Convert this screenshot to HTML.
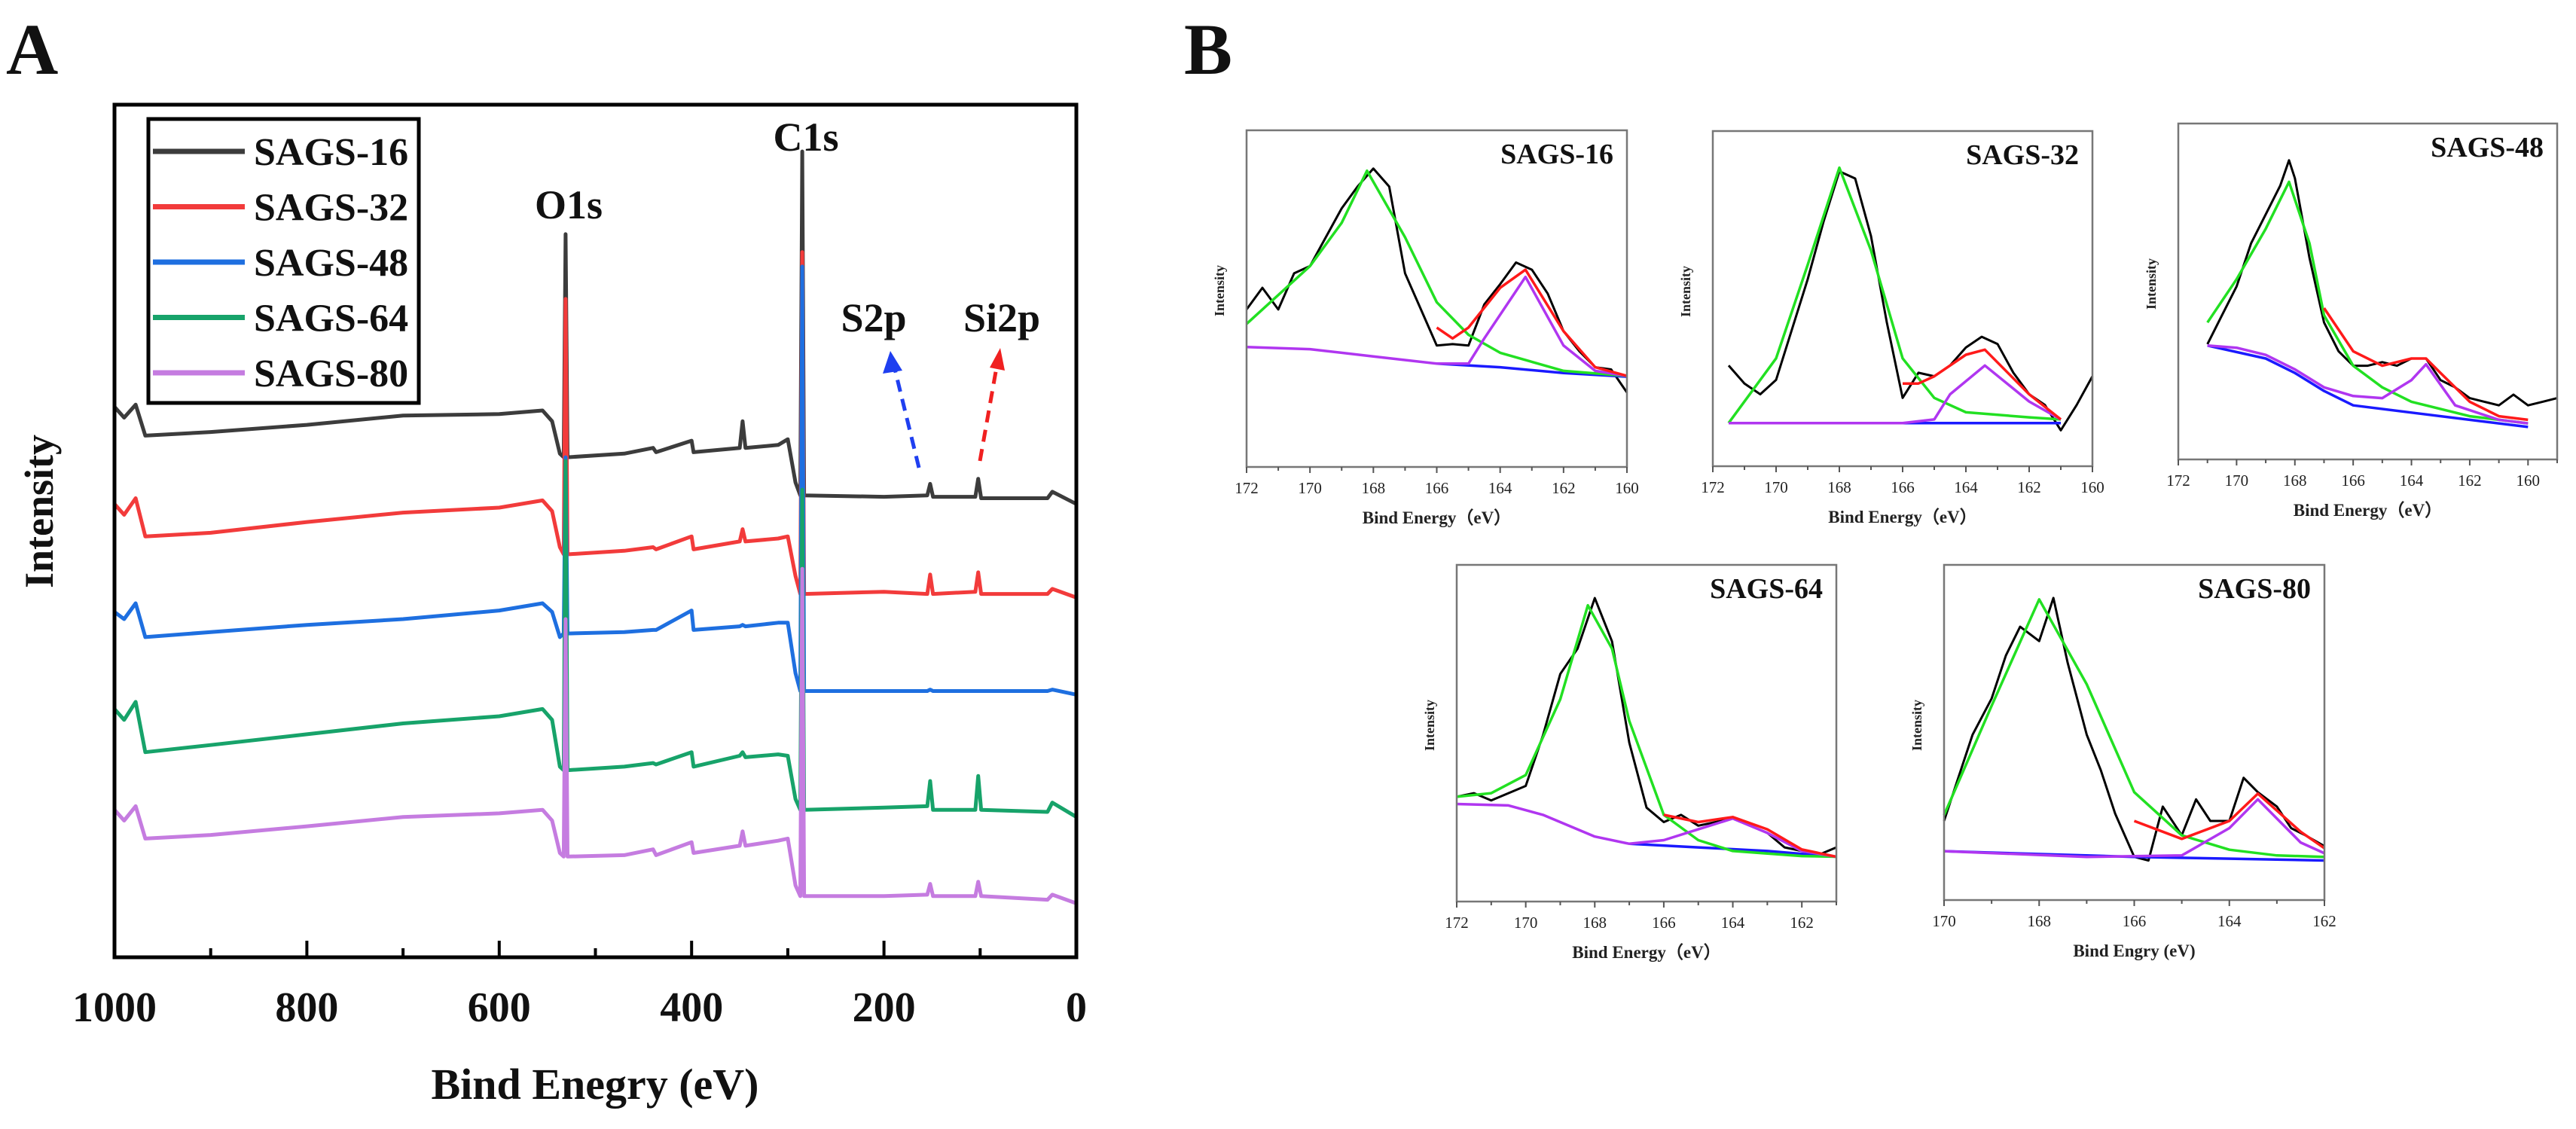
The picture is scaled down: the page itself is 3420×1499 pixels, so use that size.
<!DOCTYPE html>
<html><head><meta charset="utf-8"><style>
html,body{margin:0;padding:0;background:#fff;}
svg{display:block;font-family:"Liberation Serif",serif;}
</style></head><body>
<svg id="fig" width="3420" height="1499" viewBox="0 0 3420 1499" xmlns="http://www.w3.org/2000/svg"></svg>
<script>
// ---------- Panel A data ----------
const surveyE = [1000,990,978,968,900,800,700,600,555,545,537,533,531,529,470,440,437,400,398,350,347,344,310,300,292,287,285,283,200,155,152,149,105,102,99,30,25,0];
const sags16I = [765,750,768,725,730,740,753,755,760,745,700,695,1005,695,700,708,702,718,702,708,745,708,712,720,660,642,1120,642,640,642,658,640,640,665,638,638,647,630];
const sags32I = [630,615,638,585,590,605,618,625,635,620,570,560,915,560,565,570,567,585,567,578,595,578,582,585,530,505,980,505,508,505,532,505,508,535,505,505,512,500];
const sags48I = [480,470,492,445,452,462,470,482,492,480,445,450,695,450,452,455,455,482,455,460,462,460,465,465,395,370,960,370,370,370,372,370,370,370,370,370,372,365];
const sags64I = [345,330,355,285,295,310,325,335,345,330,265,260,690,260,265,270,268,285,265,280,285,278,282,280,220,205,650,205,208,210,245,205,205,252,205,202,215,195];
const sags80I = [205,190,210,165,170,182,195,200,205,190,145,140,470,140,142,150,142,160,145,155,175,155,162,165,100,85,540,85,85,87,102,85,85,105,85,80,87,75];
const seriesNames = ["SAGS-16","SAGS-32","SAGS-48","SAGS-64","SAGS-80"];
const xTicksA = [1000,800,600,400,200,0];
const xMinorA = [900,700,500,300,100];

// ---------- Panel B data ----------
const p16RawE = [172,171.5,171,170.5,170,169.5,169,168.5,168,167.5,167,166.5,166,165.5,165,164.5,164,163.5,163,162.5,162,161.5,161,160.5,160];
const p16RawI = [218,248,218,268,278,318,358,388,413,388,268,218,168,170,168,225,253,283,273,240,188,160,138,135,103];
const p16GreenE = [172,170,169,168.2,167,166,165,164,162,160];
const p16GreenI = [198,278,338,410,318,228,183,158,133,126];
const p16PurpleE = [172,170,168,166,165,164.5,163.2,162,161,160];
const p16PurpleI = [166,163,153,143,143,178,263,168,133,126];
const p16RedE = [166,165.5,165,164,163.2,162,161,160];
const p16RedI = [193,178,193,248,273,188,138,126];
const p16BlueE = [166,164,162,160];
const p16BlueI = [143,138,130,125];

const p32RawE = [171.5,171,170.5,170,169.5,169,168.5,168,167.5,167,166.5,166,165.5,165,164.5,164,163.5,163,162.5,162,161.5,161,160.5,160];
const p32RawI = [140,115,100,120,190,260,340,410,400,320,200,95,130,125,140,165,180,170,130,100,85,50,85,125];
const p32GreenE = [171.5,170,169,168,167,166,165,164,162,161];
const p32GreenI = [60,150,280,415,300,150,95,75,68,65];
const p32PurpleE = [171.5,166,165,164.5,163.4,162,161];
const p32PurpleI = [60,60,65,100,140,90,65];
const p32RedE = [166,165.5,165,164,163.4,162,161];
const p32RedI = [115,115,125,155,162,100,65];
const p32BlueE = [171.5,161];
const p32BlueI = [60,60];

const p48RawE = [171,170.5,170,169.5,169,168.5,168.2,168,167.5,167,166.5,166,165.5,165,164.5,164,163.5,163,162.5,162,161.5,161,160.5,160,159.5,159];
const p48RawI = [160,200,240,300,340,380,415,390,280,190,150,130,130,135,130,140,140,110,100,85,80,75,90,75,80,85];
const p48GreenE = [171,170,169,168.2,167.5,167,166,165,164,162,160];
const p48GreenI = [190,250,320,385,300,200,130,100,80,60,50];
const p48PurpleE = [171,170,169,168,167,166,165,164,163.5,162.5,161,160];
const p48PurpleI = [158,155,145,125,100,88,85,110,132,75,55,50];
const p48RedE = [167,166,165,164,163.5,163,162,161,160];
const p48RedI = [210,150,130,140,140,120,80,60,55];
const p48BlueE = [171,169,168,167,166,164,162,160];
const p48BlueI = [158,140,120,95,75,65,55,45];

const p64RawE = [172,171.5,171,170.5,170,169.5,169,168.5,168,167.5,167,166.5,166,165.5,165,164.5,164,163.5,163,162.5,162,161.5,161];
const p64RawI = [145,150,140,150,160,230,315,350,420,360,220,130,110,120,105,110,115,105,95,75,70,65,75];
const p64GreenE = [172,171,170,169,168.2,167.5,167,166,165,164,162,161];
const p64GreenI = [145,150,175,280,410,350,250,120,85,70,63,62];
const p64PurpleE = [172,170.5,169.5,168,167,166,165,164,163,162,161];
const p64PurpleI = [135,133,120,90,80,85,100,115,95,70,62];
const p64RedE = [166,165,164,163,162,161];
const p64RedI = [120,110,117,100,72,62];
const p64BlueE = [167,165,163,161];
const p64BlueI = [80,75,70,62];

const p80RawE = [170,169.7,169.4,169,168.7,168.4,168,167.7,167.4,167,166.7,166.4,166,165.7,165.4,165,164.7,164.4,164,163.7,163.4,163,162.7,162.4,162];
const p80RawI = [110,170,230,280,340,380,360,420,330,230,180,120,60,55,130,90,140,110,110,170,150,130,100,90,75];
const p80GreenE = [170,169,168,167,166,165,164,163,162];
const p80GreenI = [118,270,418,300,150,90,70,62,60];
const p80PurpleE = [170,167,165,164,163.4,162.5,162];
const p80PurpleI = [68,60,62,100,140,80,65];
const p80RedE = [166,165,164,163.4,162.5,162];
const p80RedI = [110,85,110,148,95,72];
const p80BlueE = [170,166,162];
const p80BlueI = [68,60,55];

// ---------- drawing ----------
const NS = "http://www.w3.org/2000/svg";
const svg = document.getElementById("fig");
function mk(tag, attrs, parent) {
  const el = document.createElementNS(NS, tag);
  for (const k in attrs) el.setAttribute(k, attrs[k]);
  (parent || svg).appendChild(el);
  return el;
}
function txt(s, x, y, size, attrs, parent) {
  const el = mk("text", Object.assign({x: x, y: y, "font-size": size, "font-weight": "bold", fill: "#111"}, attrs || {}), parent);
  el.textContent = s;
  return el;
}

// Panel A
const AL = 152, AR = 1429, AT = 139, AB = 1271;
const xA = e => AL + (1000 - e) / 1000 * (AR - AL);
const yA = v => AT + (1185 - v) * (AB - AT) / 1185;
const gA = mk("g", {});


const lblA = txt("A", 8, 98, 96, {}, gA);


const colorsA = ["#3c3c3c", "#f23b3b", "#1e6fe0", "#17a36a", "#c57ce0"];
const dataA = [sags16I, sags32I, sags48I, sags64I, sags80I];
dataA.forEach((arr, i) => {
  const pts = surveyE.map((e, j) => xA(e).toFixed(1) + "," + yA(arr[j]).toFixed(1)).join(" ");
  const pl = mk("polyline", {points: pts, fill: "none", stroke: colorsA[i], "stroke-width": 5, "stroke-linejoin": "round"}, gA);
  
  
});
const frameA = mk("rect", {x: AL, y: AT, width: AR - AL, height: AB - AT, fill: "none", stroke: "#000", "stroke-width": 5}, gA);


xTicksA.forEach(t => {
  const tk = mk("line", {x1: xA(t), x2: xA(t), y1: AB, y2: AB - 22, stroke: "#000", "stroke-width": 4}, gA);
  
  
  const tl = txt(String(t), xA(t), AB + 85, 56, {"text-anchor": "middle"}, gA);
  
  
});
xMinorA.forEach(t => {
  const tk = mk("line", {x1: xA(t), x2: xA(t), y1: AB, y2: AB - 12, stroke: "#000", "stroke-width": 4}, gA);
  
  
});
const xTitleA = txt("Bind Enegry (eV)", 790, 1459, 58, {"text-anchor": "middle"}, gA);


const yTitleA = txt("Intensity", 0, 0, 54, {"text-anchor": "middle", transform: "translate(70,679) rotate(-90)"}, gA);


// legend
const leg = mk("g", {}, gA);


const legBox = mk("rect", {x: 197, y: 158, width: 359, height: 377, fill: "#fff", stroke: "#000", "stroke-width": 5}, leg);


seriesNames.forEach((n, i) => {
  const y = 201 + i * 73.5;
  const ln = mk("line", {x1: 203, x2: 325, y1: y, y2: y, stroke: colorsA[i], "stroke-width": 7}, leg);
  
  
  const t = txt(n, 337, y + 18, 52, {}, leg);
  
  
});
const o1s = txt("O1s", 755, 290, 54, {"text-anchor": "middle"}, gA);


const c1s = txt("C1s", 1070, 200, 54, {"text-anchor": "middle"}, gA);


const s2p = txt("S2p", 1160, 440, 54, {"text-anchor": "middle"}, gA);


const si2p = txt("Si2p", 1330, 440, 54, {"text-anchor": "middle"}, gA);


const ar1 = mk("line", {x1: 1220, y1: 621, x2: 1188, y2: 490, stroke: "#1f3ff0", "stroke-width": 5, "stroke-dasharray": "16,10"}, gA);


const ah1 = mk("polygon", {points: "1182,466 1172,496 1198,492", fill: "#1f3ff0"}, gA);


const ar2 = mk("line", {x1: 1301, y1: 612, x2: 1323, y2: 488, stroke: "#f02020", "stroke-width": 5, "stroke-dasharray": "16,10"}, gA);


const ah2 = mk("polygon", {points: "1328,462 1314,488 1334,492", fill: "#f02020"}, gA);



// Panel B
const lblB = txt("B", 1572, 98, 96, {}, svg);



function panel(cfg) {
  const g = mk("g", {});
  
  
  const {L, R, T, B, e0, e1} = cfg;
  const xs = e => L + (e0 - e) / (e0 - e1) * (R - L);
  const ys = v => B - v * (B - T) / 466;
  const curve = (E, I, color, w, nm) => {
    const pts = E.map((e, j) => xs(e).toFixed(1) + "," + ys(I[j]).toFixed(1)).join(" ");
    const pl = mk("polyline", {points: pts, fill: "none", stroke: color, "stroke-width": w, "stroke-linejoin": "round"}, g);
    
    
  };
  curve(cfg.rawE, cfg.rawI, "#000", 3, 'raw-spectrum');
  curve(cfg.blueE, cfg.blueI, "#1a1aff", 3.5, 'background-line');
  curve(cfg.greenE, cfg.greenI, "#22e022", 3.5, 'fit-peak-s2p-high');
  curve(cfg.purpleE, cfg.purpleI, "#b036f0", 3.5, 'fit-peak-s2p-low');
  curve(cfg.redE, cfg.redI, "#ff1a1a", 3.5, 'fit-envelope');
  const fr = mk("rect", {x: L, y: T, width: R - L, height: B - T, fill: "none", stroke: "#777", "stroke-width": 2.5}, g);
  
  
  for (let t = Math.ceil(e1); t <= e0; t++) {
    const major = (t % 2 === 0);
    const tk = mk("line", {x1: xs(t), x2: xs(t), y1: B, y2: B + (major ? 8 : 5), stroke: "#555", "stroke-width": 2}, g);
    
    
    if (major) {
      const tl = txt(String(t), xs(t), B + 35, 21, {"text-anchor": "middle", "font-weight": "normal", fill: "#222"}, g);
      
      
    }
  }
  const xt = txt(cfg.xTitle, (L + R) / 2, B + 75, 23, {"text-anchor": "middle", fill: "#222"}, g);
  
  
  const yt = txt("Intensity", 0, 0, 18, {"text-anchor": "middle", fill: "#222", transform: "translate(" + (L - 30) + "," + (T + 213) + ") rotate(-90)"}, g);
  
  
  const tt = txt(cfg.name, R - 18, T + 44, 38, {"text-anchor": "end", fill: "#111"}, g);
  
  
}
const ttl = "Bind Energy\uFF08eV\uFF09";
panel({name: "SAGS-16", L: 1655, R: 2160, T: 173, B: 620, e0: 172, e1: 160, xTitle: ttl,
  rawE: p16RawE, rawI: p16RawI, greenE: p16GreenE, greenI: p16GreenI, purpleE: p16PurpleE, purpleI: p16PurpleI, redE: p16RedE, redI: p16RedI, blueE: p16BlueE, blueI: p16BlueI});
panel({name: "SAGS-32", L: 2274, R: 2778, T: 174, B: 619, e0: 172, e1: 160, xTitle: ttl,
  rawE: p32RawE, rawI: p32RawI, greenE: p32GreenE, greenI: p32GreenI, purpleE: p32PurpleE, purpleI: p32PurpleI, redE: p32RedE, redI: p32RedI, blueE: p32BlueE, blueI: p32BlueI});
panel({name: "SAGS-48", L: 2892, R: 3395, T: 164, B: 610, e0: 172, e1: 159, xTitle: ttl,
  rawE: p48RawE, rawI: p48RawI, greenE: p48GreenE, greenI: p48GreenI, purpleE: p48PurpleE, purpleI: p48PurpleI, redE: p48RedE, redI: p48RedI, blueE: p48BlueE, blueI: p48BlueI});
panel({name: "SAGS-64", L: 1934, R: 2438, T: 750, B: 1197, e0: 172, e1: 161, xTitle: ttl,
  rawE: p64RawE, rawI: p64RawI, greenE: p64GreenE, greenI: p64GreenI, purpleE: p64PurpleE, purpleI: p64PurpleI, redE: p64RedE, redI: p64RedI, blueE: p64BlueE, blueI: p64BlueI});
panel({name: "SAGS-80", L: 2581, R: 3086, T: 750, B: 1195, e0: 170, e1: 162, xTitle: "Bind Engry (eV)",
  rawE: p80RawE, rawI: p80RawI, greenE: p80GreenE, greenI: p80GreenI, purpleE: p80PurpleE, purpleI: p80PurpleI, redE: p80RedE, redI: p80RedI, blueE: p80BlueE, blueI: p80BlueI});
</script>
</body></html>
